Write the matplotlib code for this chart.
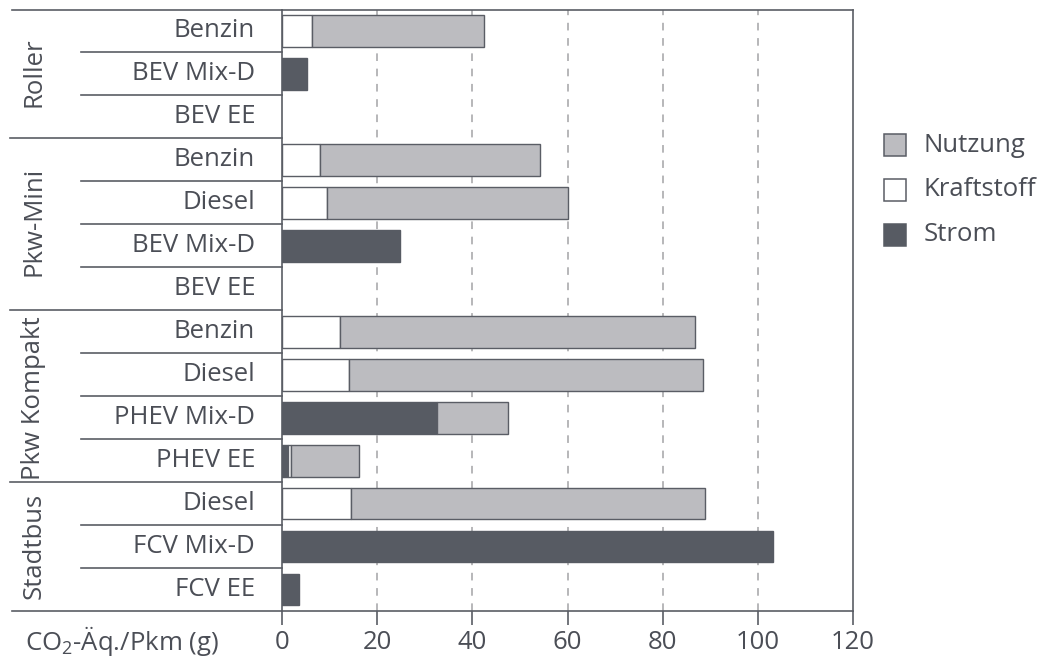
import matplotlib
matplotlib.use("Agg")
import matplotlib.pyplot as plt
from matplotlib.patches import Rectangle
from matplotlib.lines import Line2D
import matplotlib.transforms as mtransforms

plt.rcParams['font.family'] = ['Open Sans', 'DejaVu Sans']
plt.rcParams['mathtext.fontset'] = 'custom'
plt.rcParams['mathtext.rm'] = 'Open Sans'

groups = ["Roller", "Pkw-Mini", "Pkw Kompakt", "Stadtbus"]
group_sizes = [3, 4, 4, 3]
labels = ["Benzin", "BEV Mix-D", "BEV EE",
          "Benzin", "Diesel", "BEV Mix-D", "BEV EE",
          "Benzin", "Diesel", "PHEV Mix-D", "PHEV EE",
          "Diesel", "FCV Mix-D", "FCV EE"]
strom      = [0, 5.2, 0,   0, 0, 24.8, 0,   0, 0, 32.6, 1.2,   0, 103.2, 3.5]
kraftstoff = [6.4, 0, 0,   8.0, 9.5, 0, 0,  12.2, 14.0, 0, 0.7,  14.6, 0, 0]
nutzung    = [36.1, 0, 0,  46.3, 50.6, 0, 0, 74.5, 74.4, 14.9, 14.3, 74.4, 0, 0]
xticks = [0, 20, 40, 60, 80, 100, 120]
legend_labels = ["Nutzung", "Kraftstoff", "Strom"]

TXT = "#4b4e56"
EDGE = "#5a5d65"
C_N = "#bcbcc0"
C_K = "#ffffff"
C_S = "#575b63"
FS = 18.5

W, H = 1043, 661
fig = plt.figure(figsize=(W/100, H/100), dpi=100)
ax_l, ax_r, ax_t, ax_b = 282, 853, 9.5, 611
ax = fig.add_axes([ax_l/W, 1-ax_b/H, (ax_r-ax_l)/W, (ax_b-ax_t)/H])

n = len(labels)
ys = list(range(n))
bh = 0.74
for y, s, k, u in zip(ys, strom, kraftstoff, nutzung):
    if s > 0:
        ax.barh(y, s, height=bh, left=0, color=C_S, edgecolor=C_S, linewidth=1, zorder=3)
    if k > 0:
        ax.barh(y, k, height=bh, left=s, color=C_K, edgecolor=EDGE, linewidth=1, zorder=3)
    if u > 0:
        ax.barh(y, u, height=bh, left=s+k, color=C_N, edgecolor=EDGE, linewidth=1, zorder=3)

ax.set_xlim(0, 120)
ax.set_ylim(n-0.5, -0.5)
ax.set_xticks(xticks)
ax.set_xticklabels([str(t) for t in xticks], fontsize=FS, color=TXT)
ax.set_yticks([])
ax.tick_params(axis='x', length=10, width=1.2, color=EDGE, pad=4)
for x in xticks[1:-1]:
    ax.axvline(x, color="#a3a3a6", linestyle=(0, (5, 5)), linewidth=1.1, zorder=1)
for sp in ax.spines.values():
    sp.set_color(EDGE)
    sp.set_linewidth(1.2)

trans = mtransforms.blended_transform_factory(fig.transFigure, ax.transData)
for yy in (-0.5, n-0.5):
    fig.add_artist(Line2D([12/W, ax_l/W], [yy, yy], transform=trans, color=EDGE, lw=1.2))

idx = 0
for gi, gs in enumerate(group_sizes):
    for j in range(gs):
        yb = idx + j + 0.5
        if j < gs - 1:
            fig.add_artist(Line2D([81/W, ax_l/W], [yb, yb], transform=trans, color=EDGE, lw=1.2))
        elif gi < len(group_sizes) - 1:
            fig.add_artist(Line2D([10/W, ax_l/W], [yb, yb], transform=trans, color=EDGE, lw=1.2))
    idx += gs

for y, lab in zip(ys, labels):
    ax.text(255/W, y, lab, transform=trans, ha='right', va='center', fontsize=FS, color=TXT)

group_centers = [0.97, 4.42, 8.54, 11.99]
for g, yc in zip(groups, group_centers):
    ax.text(34/W, yc, g, transform=trans, ha='center', va='center', rotation=90, fontsize=FS, color=TXT)

fig.text(25/W, 1-641/H, r"CO$_\mathregular{2}$-Äq./Pkm (g)", ha='left', va='center', fontsize=FS, color=TXT)

# legend
leg_colors = [(C_N, EDGE), (C_K, EDGE), (C_S, C_S)]
leg_y = [145, 190, 235]
sq = 22
for (fc, ec), lab, yc in zip(leg_colors, legend_labels, leg_y):
    fig.add_artist(Rectangle((884/W, 1-(yc+sq/2)/H), sq/W, sq/H, transform=fig.transFigure,
                             facecolor=fc, edgecolor=ec, linewidth=1.1))
    fig.text(924/W, 1-yc/H, lab, ha='left', va='center', fontsize=FS, color=TXT)

fig.savefig("out.png", dpi=100)
